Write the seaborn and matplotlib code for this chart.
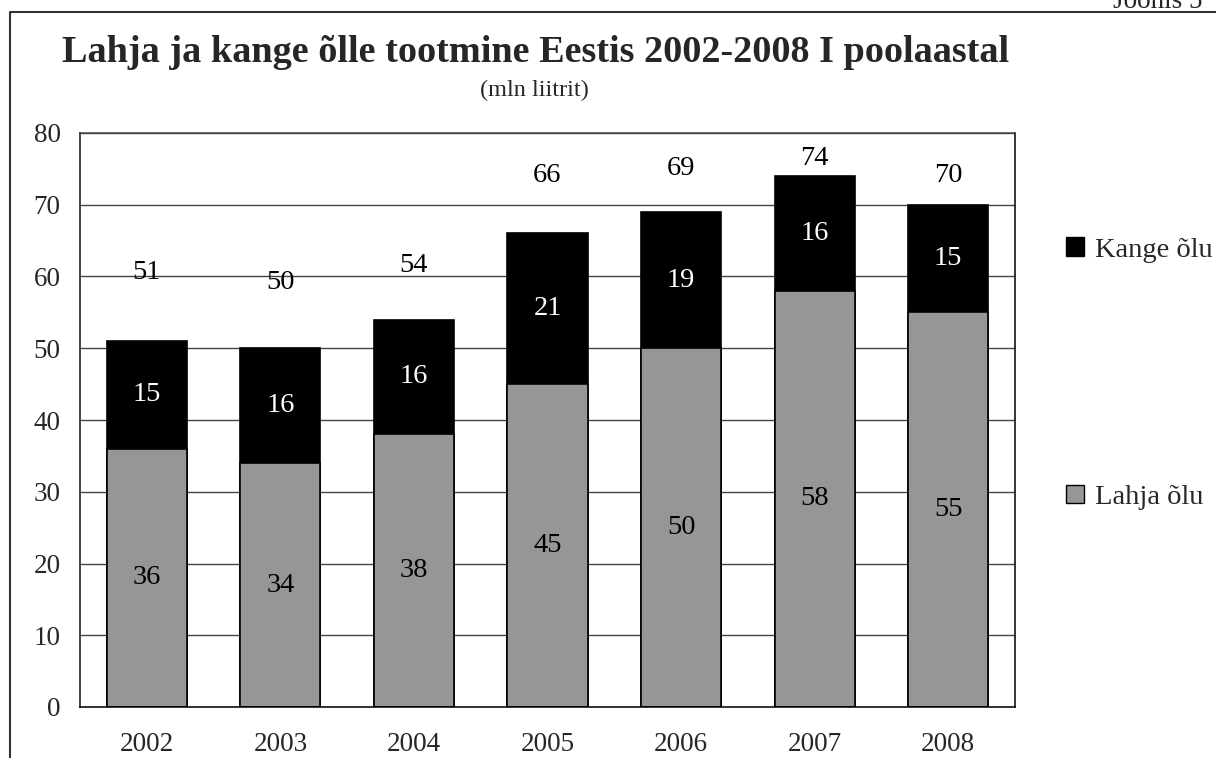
import numpy as np
import pandas as pd
import matplotlib
matplotlib.use('Agg')
import matplotlib.pyplot as plt
from matplotlib.patches import Patch
import seaborn as sns

years = ['2002', '2003', '2004', '2005', '2006', '2007', '2008']
lahja = [36, 34, 38, 45, 50, 58, 55]
kange = [15, 16, 16, 21, 19, 16, 15]
totals = [51, 50, 54, 66, 69, 74, 70]
# height (in data units) where the total labels sit in the original
total_label_y = [60.6, 59.1, 61.5, 74.1, 75.1, 76.5, 74.1]

sns.set_style('white')
plt.rcParams['font.family'] = ['Liberation Serif', 'DejaVu Serif']

df = pd.DataFrame({'year': years, 'lahja': lahja, 'kange': kange})
df['total'] = df['lahja'] + df['kange']

fig = plt.figure(figsize=(12.16, 7.58), dpi=100)
ax = fig.add_axes([80 / 1216, 51 / 758, 935 / 1216, 574 / 758])

# stacked bars: full height in black, lahja part drawn over it in grey
sns.barplot(data=df, x='year', y='total', color='black', width=0.6,
            edgecolor='black', linewidth=1.2, saturation=1, ax=ax)
sns.barplot(data=df, x='year', y='lahja', color='#969696', width=0.6,
            edgecolor='black', linewidth=1.2, saturation=1, ax=ax)

ax.set_ylim(0, 80)
ax.set_xlim(-0.5, len(years) - 0.5)
ax.set_yticks(np.arange(0, 81, 10))
ax.set_xlabel('')
ax.set_ylabel('')
ax.yaxis.grid(True, color='#444444', linewidth=1)
ax.set_axisbelow(True)

ax.set_xticks(np.arange(-0.5, len(years), 1), minor=True)
ax.tick_params(axis='x', which='major', length=0, labelsize=19.5, pad=18)
ax.tick_params(axis='x', which='minor', length=7, width=1.2, color='#777777')
ax.tick_params(axis='y', length=7, width=1.2, color='#333333', labelsize=19.5, pad=7)

for side in ['left', 'right', 'top', 'bottom']:
    ax.spines[side].set_color('black')
    ax.spines[side].set_linewidth(1.1)
ax.spines['left'].set_color('#444444')
ax.spines['left'].set_linewidth(1.4)
ax.spines['top'].set_color('#444444')

for i in range(len(years)):
    ax.text(i, lahja[i] / 2, str(lahja[i]), ha='center', va='center',
            fontsize=20.5, color='black')
    ax.text(i, lahja[i] + kange[i] / 2, str(kange[i]), ha='center', va='center',
            fontsize=20.5, color='white')
    ax.text(i, total_label_y[i], str(totals[i]), ha='center', va='center',
            fontsize=20.5, color='black')

fig.text(536 / 1216, 1 - 62 / 758, 'Lahja ja kange õlle tootmine Eestis 2002-2008 I poolaastal',
         ha='center', va='baseline', fontsize=27.5, fontweight='bold')
fig.text(534 / 1216, 1 - 96 / 758, '(mln liitrit)', ha='center', va='baseline', fontsize=17.5)
fig.text(1113 / 1216, 1 - 8 / 758, 'Joonis 5', ha='left', va='baseline', fontsize=19.5)

handles = [Patch(facecolor='black', edgecolor='black', label='Kange õlu'),
           Patch(facecolor='#969696', edgecolor='black', label='Lahja õlu')]
fig.legend(handles=handles, loc='upper left', bbox_to_anchor=(1055 / 1216, 1 - 226 / 758),
           frameon=False, fontsize=20.5, labelspacing=7.8, handlelength=0.62,
           handleheight=0.62, handletextpad=0.4, borderaxespad=0)

# outer frame of the figure box
fig.add_artist(plt.Line2D([10 / 1216, 10 / 1216, 1.0], [0.0, 1 - 12 / 758, 1 - 12 / 758],
                          transform=fig.transFigure, color='#333333', linewidth=1.5))

fig.savefig('out.png', dpi=100)
